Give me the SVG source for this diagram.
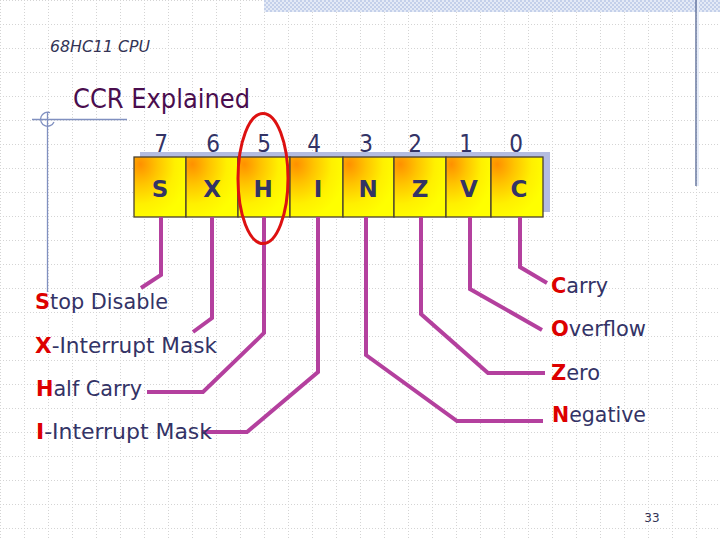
<svg xmlns="http://www.w3.org/2000/svg" width="720" height="540" viewBox="0 0 720 540">
  <defs>
    <pattern id="grid" x="0" y="0" width="24" height="24" patternUnits="userSpaceOnUse">
      <path d="M0 0.5 H24 M0.5 0 V24" fill="none" stroke="#d4d4d4" stroke-width="1" stroke-dasharray="1 2"/>
    </pattern>
    <pattern id="checker" x="0" y="0" width="4" height="4" patternUnits="userSpaceOnUse">
      <rect width="4" height="4" fill="#e4eaf6"/>
      <rect width="2" height="2" fill="#c4d0ea"/>
      <rect x="2" y="2" width="2" height="2" fill="#c4d0ea"/>
    </pattern>
    <radialGradient id="bit" cx="0.12" cy="0.12" r="0.95" fx="0.12" fy="0.12">
      <stop offset="0" stop-color="#ff9000"/>
      <stop offset="0.35" stop-color="#ffc400"/>
      <stop offset="0.7" stop-color="#fff000"/>
      <stop offset="1" stop-color="#ffff00"/>
    </radialGradient>
    <style>
      .lbl { font-family: "DejaVu Sans Condensed", "DejaVu Sans", Verdana, sans-serif; font-size: 22px; fill: #333366; }
      .key { fill: #dd0000; font-weight: bold; }
      .num { font-family: "DejaVu Sans Condensed", "DejaVu Sans", sans-serif; font-size: 24px; fill: #333366; text-anchor: middle; }
      .bitl { font-family: "DejaVu Sans", Verdana, sans-serif; font-size: 23px; font-weight: bold; fill: #333366; text-anchor: middle; }
      .box { fill: url(#bit); stroke: #4a4030; stroke-width: 1.3; }
      .conn { fill: none; stroke: #b4409e; stroke-width: 4; stroke-linejoin: miter; }
      .deco { fill: none; stroke: #8090c0; stroke-width: 1.3; }
    </style>
  </defs>

  <rect width="720" height="540" fill="#ffffff"/>
  <rect width="720" height="540" fill="url(#grid)"/>

  <g id="decoration">
    <rect x="264" y="0" width="456" height="12" fill="url(#checker)"/>
    <line x1="696" y1="0" x2="696" y2="186" stroke="#6878a0" stroke-width="1.5"/>
    <line x1="698" y1="0" x2="698" y2="186" stroke="#e6ecf8" stroke-width="2"/>
    <line class="deco" x1="32" y1="119.5" x2="127" y2="119.5"/>
    <line class="deco" x1="47.5" y1="112" x2="47.5" y2="292"/>
    <path class="deco" d="M50 112.6 A7 7 0 1 0 54 122"/>
  </g>

  <g id="header">
    <text x="50" y="52" font-family="DejaVu Sans Condensed, DejaVu Sans, sans-serif" font-size="15" font-style="italic" fill="#333355" textLength="100" lengthAdjust="spacingAndGlyphs">68HC11 CPU</text>
    <text x="73" y="108" font-family="DejaVu Sans Condensed, DejaVu Sans, sans-serif" font-size="26" fill="#4a0d4e" textLength="177" lengthAdjust="spacingAndGlyphs">CCR Explained</text>
  </g>

  <g id="register">
    <rect x="140" y="152" width="410" height="60" fill="#b4bce0"/>
    <g id="bit7"><rect class="box" x="134" y="157" width="52" height="60"/><text class="num" x="161" y="152">7</text><text class="bitl" x="160" y="197">S</text></g>
    <g id="bit6"><rect class="box" x="186" y="157" width="52" height="60"/><text class="num" x="213" y="152">6</text><text class="bitl" x="212" y="197">X</text></g>
    <g id="bit5"><rect class="box" x="238" y="157" width="52" height="60"/><text class="num" x="264" y="152">5</text><text class="bitl" x="263" y="197">H</text></g>
    <g id="bit4"><rect class="box" x="290" y="157" width="53" height="60"/><text class="num" x="314" y="152">4</text><text class="bitl" x="318" y="197">I</text></g>
    <g id="bit3"><rect class="box" x="343" y="157" width="51" height="60"/><text class="num" x="366" y="152">3</text><text class="bitl" x="368" y="197">N</text></g>
    <g id="bit2"><rect class="box" x="394" y="157" width="52" height="60"/><text class="num" x="415" y="152">2</text><text class="bitl" x="420" y="197">Z</text></g>
    <g id="bit1"><rect class="box" x="446" y="157" width="45" height="60"/><text class="num" x="466" y="152">1</text><text class="bitl" x="469" y="197">V</text></g>
    <g id="bit0"><rect class="box" x="491" y="157" width="52" height="60"/><text class="num" x="516" y="152">0</text><text class="bitl" x="519" y="197">C</text></g>
  </g>

  <g id="connectors">
    <polyline class="conn" points="161,217 161,275 141,288"/>
    <polyline class="conn" points="212,217 212,318 193,332"/>
    <polyline class="conn" points="264,217 264,333 203,392 147,392"/>
    <polyline class="conn" points="318,217 318,372 247,432 202,432"/>
    <polyline class="conn" points="520,217 520,267 547,283"/>
    <polyline class="conn" points="470,217 470,289 542,330"/>
    <polyline class="conn" points="421,217 421,314 488,373 545,373"/>
    <polyline class="conn" points="366,217 366,355 457,421 543,421"/>
  </g>

  <g id="highlight">
    <ellipse cx="263" cy="178.5" rx="25" ry="65" fill="none" stroke="#dd1111" stroke-width="3"/>
  </g>

  <g id="labels-left">
    <text class="lbl" x="35" y="309" textLength="133" lengthAdjust="spacingAndGlyphs"><tspan class="key">S</tspan>top Disable</text>
    <text class="lbl" x="35" y="353" textLength="182" lengthAdjust="spacingAndGlyphs"><tspan class="key">X</tspan>-Interrupt Mask</text>
    <text class="lbl" x="36" y="396" textLength="106" lengthAdjust="spacingAndGlyphs"><tspan class="key">H</tspan>alf Carry</text>
    <text class="lbl" x="36" y="439" textLength="176" lengthAdjust="spacingAndGlyphs"><tspan class="key">I</tspan>-Interrupt Mask</text>
  </g>

  <g id="labels-right">
    <text class="lbl" x="551" y="293" textLength="57" lengthAdjust="spacingAndGlyphs"><tspan class="key">C</tspan>arry</text>
    <text class="lbl" x="551" y="336" textLength="95" lengthAdjust="spacingAndGlyphs"><tspan class="key">O</tspan>verflow</text>
    <text class="lbl" x="551" y="380" textLength="49" lengthAdjust="spacingAndGlyphs"><tspan class="key">Z</tspan>ero</text>
    <text class="lbl" x="552" y="422" textLength="94" lengthAdjust="spacingAndGlyphs"><tspan class="key">N</tspan>egative</text>
  </g>

  <g id="footer">
    <text x="652" y="522" font-family="DejaVu Sans, Verdana, sans-serif" font-size="12" fill="#333355" text-anchor="middle">33</text>
  </g>
</svg>
